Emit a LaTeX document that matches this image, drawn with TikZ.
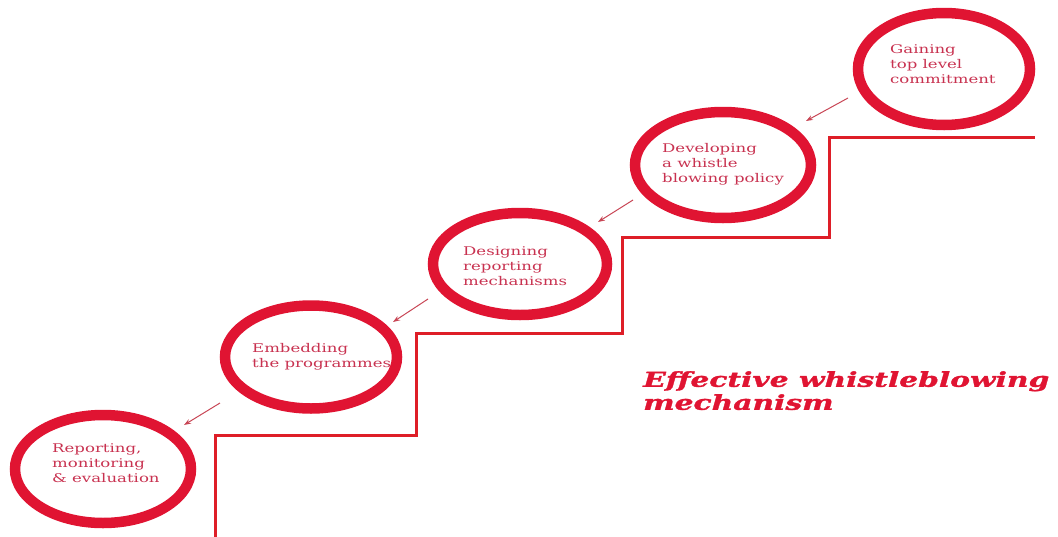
\documentclass[tikz,border=0pt]{standalone}
\usepackage{fontspec}
\usetikzlibrary{shapes.geometric,arrows.meta}
\newfontfamily\stepfont[FakeStretch=1.38]{DejaVu Serif}
\newfontfamily\titlefont[FakeStretch=1.45,FakeBold=1.5]{DejaVu Serif}
\definecolor{ringred}{RGB}{224,20,50}
\definecolor{stairred}{RGB}{222,30,40}
\definecolor{txtred}{RGB}{200,50,80}
\definecolor{arrred}{RGB}{200,70,85}
\tikzset{
  ring/.style={ellipse, draw=ringred, line width=10.5pt, inner sep=0pt},
  steptext/.style={anchor=north west, inner sep=0pt, align=left, text=txtred,
    font=\stepfont\fontsize{12}{15}\selectfont},
  stair/.style={draw=stairred, line width=3pt},
  pointer/.style={draw=arrred, line width=1pt, -{Stealth[length=7pt,width=5pt]}},
}
\begin{document}
\begin{tikzpicture}[x=1pt,y=-1pt]
\useasboundingbox (0,0) rectangle (1058,536);
% stairs
\draw[stair] (215,540) -- (215,435) -- (416,435) -- (416,333) -- (622,333) -- (622,237) -- (829,237) -- (829,137) -- (1035,137);
% rings
\node[ring, minimum width=172pt, minimum height=112pt] (r1) at (944,69) {};
\node[ring, minimum width=176pt, minimum height=106pt] (r2) at (723,165) {};
\node[ring, minimum width=174pt, minimum height=102pt] (r3) at (520,264) {};
\node[ring, minimum width=172pt, minimum height=103pt] (r4) at (311,357) {};
\node[ring, minimum width=176pt, minimum height=108pt] (r5) at (103,469) {};
% texts
\node[steptext] (t1) at (890,44) {Gaining\\top level\\commitment};
\node[steptext] (t2) at (662,143) {Developing\\a whistle\\blowing policy};
\node[steptext] (t3) at (463,246) {Designing\\reporting\\mechanisms};
\node[steptext] (t4) at (252,343) {Embedding\\the programmes};
\node[steptext] (t5) at (52,443) {Reporting,\\monitoring\\\& evaluation};
% arrows
\coordinate (a1s) at (848,98); \coordinate (a1e) at (806,121);
\coordinate (a2s) at (633,200); \coordinate (a2e) at (598,222);
\coordinate (a3s) at (428,299); \coordinate (a3e) at (393,322);
\coordinate (a4s) at (220,403); \coordinate (a4e) at (184,425);
\draw[pointer] (a1s) -- (a1e);
\draw[pointer] (a2s) -- (a2e);
\draw[pointer] (a3s) -- (a3e);
\draw[pointer] (a4s) -- (a4e);
% title
\node[anchor=north west, inner sep=0pt, align=left, text=ringred,
  font=\titlefont\bfseries\itshape\fontsize{20.5}{23}\selectfont] (title) at (643,371)
  {Effective whistleblowing\\mechanism};
\end{tikzpicture}
\end{document}
